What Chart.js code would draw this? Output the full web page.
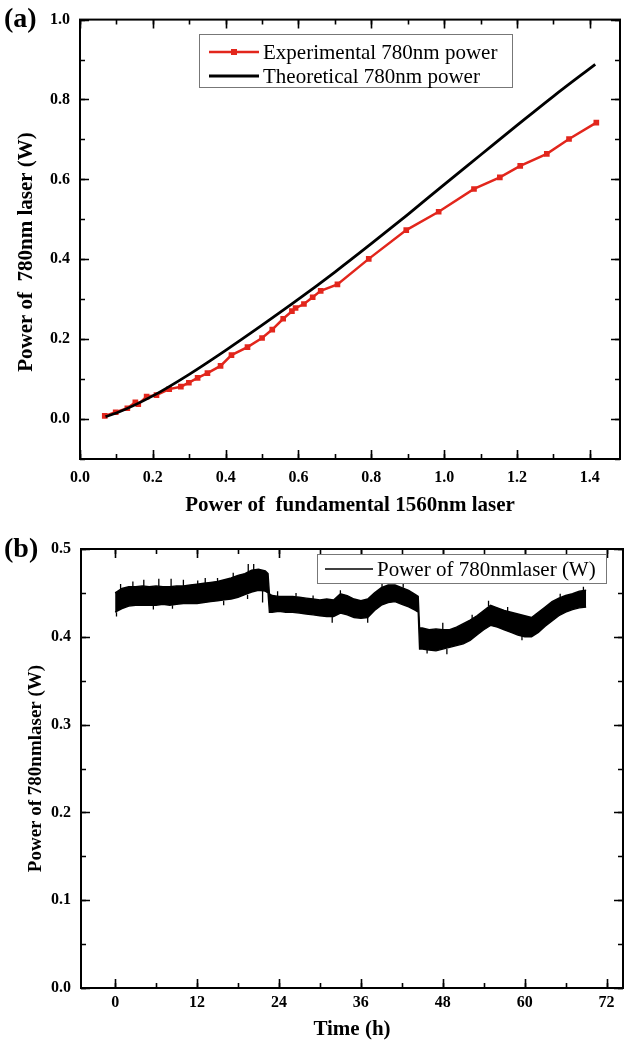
<!DOCTYPE html>
<html>
<head>
<meta charset="utf-8">
<script src="https://cdn.jsdelivr.net/npm/chart.js@4.4.0/dist/chart.umd.min.js"></script>
<style>
  html, body { margin: 0; padding: 0; background: #fff; }
  body { width: 624px; height: 1042px; position: relative; overflow: hidden; }
  .panel { position: absolute; left: 0; width: 624px; }
  .tag { position: absolute; font: bold 28px 'Liberation Serif', serif; color: #000; line-height: 30px; }
</style>
</head>
<body>
<div class="panel" style="top:0;height:520px"><canvas id="chartA" width="624" height="520"></canvas></div>
<div class="panel" style="top:520px;height:522px"><canvas id="chartB" width="624" height="522"></canvas></div>
<div class="tag" style="left:4px;top:3px">(a)</div>
<div class="tag" style="left:4px;top:533px">(b)</div>
<script>
// ---- panel (a) data ----
const fundPower = [0.068, 0.098, 0.130, 0.152, 0.160, 0.183, 0.210, 0.245, 0.277, 0.299, 0.323,
  0.350, 0.386, 0.416, 0.460, 0.500, 0.528, 0.558, 0.582, 0.592, 0.615, 0.639, 0.661, 0.707,
  0.793, 0.896, 0.985, 1.082, 1.153, 1.209, 1.282, 1.343, 1.418];
const expPower = [0.008, 0.017, 0.027, 0.042, 0.037, 0.056, 0.060, 0.075, 0.081, 0.091, 0.103,
  0.115, 0.133, 0.160, 0.180, 0.203, 0.224, 0.251, 0.270, 0.278, 0.288, 0.305, 0.321, 0.337,
  0.401, 0.473, 0.519, 0.576, 0.605, 0.634, 0.664, 0.701, 0.742];
const theoFund = [0.07, 0.1, 0.2, 0.3, 0.4, 0.5, 0.6, 0.7, 0.8, 0.9, 1.0, 1.1, 1.2, 1.3, 1.415];
const theoPower = [0.006, 0.015, 0.058, 0.112, 0.172, 0.235, 0.300, 0.368, 0.439, 0.512, 0.587,
  0.661, 0.735, 0.808, 0.888];
const xTicksA = [0, 0.2, 0.4, 0.6, 0.8, 1.0, 1.2, 1.4];
const yTicksA = [0, 0.2, 0.4, 0.6, 0.8, 1.0];

// ---- panel (b) data: upper / lower edge of the noise band ----
const hours = [0, 1, 2, 3, 4, 5, 6, 7, 8, 9, 10, 11, 12, 13, 14, 15, 16, 17, 18, 19, 20, 21, 22,
  22.4, 22.6, 23, 24, 25, 26, 27, 28, 29, 30, 31, 32, 33, 34, 35, 36, 37, 38, 39, 40, 41, 42, 43,
  44, 44.4, 44.6, 45, 46, 47, 48, 49, 50, 51, 52, 53, 54, 55, 56, 57, 58, 59, 60, 61, 62, 63, 64,
  65, 66, 67, 68, 69];
const bandTop = [0.450, 0.455, 0.457, 0.457, 0.458, 0.457, 0.458, 0.457, 0.457, 0.458, 0.458,
  0.459, 0.460, 0.461, 0.462, 0.463, 0.465, 0.467, 0.470, 0.472, 0.476, 0.477, 0.475,
  0.472, 0.449, 0.447, 0.446, 0.446, 0.446, 0.445, 0.444, 0.443, 0.442, 0.443, 0.442, 0.449,
  0.447, 0.443, 0.441, 0.443, 0.450, 0.456, 0.459, 0.459, 0.456, 0.453, 0.448, 0.446, 0.410,
  0.410, 0.408, 0.409, 0.408, 0.408, 0.411, 0.415, 0.419, 0.424, 0.430, 0.436, 0.433, 0.430,
  0.428, 0.426, 0.424, 0.422, 0.428, 0.434, 0.440, 0.444, 0.447, 0.449, 0.452, 0.453];
const bandBottom = [0.428, 0.432, 0.435, 0.436, 0.436, 0.436, 0.436, 0.437, 0.436, 0.437, 0.438,
  0.438, 0.438, 0.439, 0.440, 0.441, 0.442, 0.443, 0.445, 0.448, 0.451, 0.453, 0.452,
  0.450, 0.428, 0.428, 0.429, 0.428, 0.428, 0.427, 0.426, 0.425, 0.424, 0.423, 0.423, 0.427,
  0.425, 0.422, 0.421, 0.422, 0.430, 0.436, 0.439, 0.440, 0.437, 0.434, 0.430, 0.428, 0.386,
  0.386, 0.385, 0.384, 0.386, 0.388, 0.390, 0.392, 0.396, 0.402, 0.408, 0.413, 0.411, 0.408,
  0.405, 0.402, 0.400, 0.400, 0.405, 0.412, 0.418, 0.424, 0.428, 0.431, 0.433, 0.434];
// isolated noise spikes sticking out of the band (time, band edge, tip)
const spikeHours = [0.8, 2.6, 4.2, 6.4, 8.2, 10.0, 12.1, 13.2, 15.0, 17.3, 19.5, 20.3, 23.8, 26.5,
  29.0, 33.0, 39.1, 42.2, 48.0, 52.3, 54.7, 57.5, 65.2, 68.6,
  0.2, 5.6, 8.4, 15.9, 19.4, 21.6, 31.8, 37.0, 45.7, 48.6, 59.6];
const spikeBase = [0.454, 0.457, 0.457, 0.458, 0.457, 0.458, 0.460, 0.461, 0.463, 0.468, 0.472,
  0.476, 0.446, 0.446, 0.443, 0.449, 0.456, 0.456, 0.408, 0.419, 0.435, 0.429, 0.445, 0.453,
  0.428, 0.436, 0.436, 0.441, 0.448, 0.453, 0.424, 0.422, 0.386, 0.386, 0.401];
const spikeTip = [0.460, 0.463, 0.465, 0.466, 0.466, 0.465, 0.464, 0.467, 0.467, 0.473, 0.483,
  0.483, 0.452, 0.450, 0.447, 0.453, 0.461, 0.460, 0.416, 0.425, 0.441, 0.434, 0.449, 0.457,
  0.423, 0.431, 0.432, 0.436, 0.443, 0.439, 0.416, 0.416, 0.381, 0.380, 0.396];
const xTicksB = [0, 12, 24, 36, 48, 60, 72];
const yTicksB = [0, 0.1, 0.2, 0.3, 0.4, 0.5];

const SERIF = "'Liberation Serif', 'Times New Roman', serif";
const RED = '#e2261c';

const pairs = (xs, ys) => xs.map((x, i) => ({ x, y: ys[i] }));

// box around the plot with inward major/minor ticks on all four sides
const frameTicks = {
  id: 'frameTicks',
  afterDatasetsDraw(chart, args, o) {
    const { ctx, chartArea: a, scales: { x, y } } = chart;
    ctx.save();
    ctx.strokeStyle = '#000';
    ctx.lineWidth = 1.6;
    const xs = (step, len) => {
      for (let v = Math.ceil(x.min / step) * step; v <= x.max + 1e-9; v += step) {
        const p = Math.round(x.getPixelForValue(v)) + 0.5;
        ctx.beginPath();
        ctx.moveTo(p, a.bottom); ctx.lineTo(p, a.bottom - len);
        ctx.moveTo(p, a.top); ctx.lineTo(p, a.top + len);
        ctx.stroke();
      }
    };
    const ys = (step, len) => {
      for (let v = Math.ceil(y.min / step - 1e-9) * step; v <= y.max + 1e-9; v += step) {
        const p = Math.round(y.getPixelForValue(v)) + 0.5;
        ctx.beginPath();
        ctx.moveTo(a.left, p); ctx.lineTo(a.left + len, p);
        ctx.moveTo(a.right, p); ctx.lineTo(a.right - len, p);
        ctx.stroke();
      }
    };
    xs(o.xMinor, 5); xs(o.xMajor, 9);
    ys(o.yMinor, 5); ys(o.yMajor, 9);
    ctx.lineWidth = 2;
    ctx.strokeRect(a.left, a.top, a.right - a.left, a.bottom - a.top);
    ctx.restore();
  }
};

// legend box drawn at a fixed spot inside the plot
const boxLegend = {
  id: 'boxLegend',
  afterDraw(chart, args, o) {
    const ctx = chart.ctx;
    ctx.save();
    ctx.fillStyle = '#fff';
    ctx.fillRect(o.left, o.top, o.width, o.height);
    ctx.strokeStyle = '#777';
    ctx.lineWidth = 1;
    ctx.strokeRect(o.left + 0.5, o.top + 0.5, o.width, o.height);
    o.items.forEach((it, i) => {
      const ds = chart.data.datasets[it.dataset];
      const yy = o.top + o.firstRow + i * o.rowGap;
      ctx.strokeStyle = ds.borderColor;
      ctx.lineWidth = it.lineWidth;
      ctx.beginPath();
      ctx.moveTo(o.left + o.lineStart, yy);
      ctx.lineTo(o.left + o.lineStart + o.lineLen, yy);
      ctx.stroke();
      if (it.marker) {
        ctx.fillStyle = ds.borderColor;
        ctx.fillRect(o.left + o.lineStart + o.lineLen / 2 - 3, yy - 3, 6, 6);
      }
      ctx.fillStyle = '#000';
      ctx.font = `21px ${SERIF}`;
      ctx.textBaseline = 'middle';
      ctx.fillText(ds.label, o.left + o.lineStart + o.lineLen + 4, yy + 1);
    });
    ctx.restore();
  }
};

// y title of panel (a) sits a little below the middle of the axis
const sideTitle = {
  id: 'sideTitle',
  afterDraw(chart, args, o) {
    if (!o.text) return;
    const ctx = chart.ctx;
    ctx.save();
    ctx.translate(o.x, o.y);
    ctx.rotate(-Math.PI / 2);
    ctx.font = `bold ${o.size}px ${SERIF}`;
    ctx.fillStyle = '#000';
    ctx.textAlign = 'center';
    ctx.textBaseline = 'middle';
    ctx.fillText(o.text, 0, 0);
    ctx.restore();
  }
};

const tickFont = { family: SERIF, size: 16, weight: 'bold' };

function axis(opts) {
  return {
    type: 'linear',
    min: opts.min,
    max: opts.max,
    afterBuildTicks: s => { s.ticks = opts.ticks.map(v => ({ value: v })); },
    afterFit: s => {
      if (opts.width !== undefined) s.width = opts.width;
      if (opts.height !== undefined) s.height = opts.height;
      s.paddingLeft = 0; s.paddingRight = 0;
    },
    grid: { display: false, drawTicks: false },
    border: { display: false },
    ticks: { color: '#000', font: tickFont, padding: opts.pad, autoSkip: false, maxRotation: 0, callback: opts.fmt },
    title: {
      display: !!opts.title, text: opts.title || '', color: '#000',
      font: { family: SERIF, size: opts.titleSize, weight: 'bold' }, padding: opts.titlePad
    }
  };
}

new Chart(document.getElementById('chartA'), {
  type: 'line',
  data: {
    datasets: [
      {
        label: 'Experimental 780nm power',
        data: pairs(fundPower, expPower),
        borderColor: RED,
        backgroundColor: RED,
        borderWidth: 2.5,
        pointStyle: 'rect',
        pointRadius: 4,
        pointBorderWidth: 0,
        pointBackgroundColor: RED,
        order: 1
      },
      {
        label: 'Theoretical 780nm power',
        data: pairs(theoFund, theoPower),
        borderColor: '#000',
        borderWidth: 2.8,
        pointRadius: 0,
        cubicInterpolationMode: 'monotone',
        order: 0
      }
    ]
  },
  options: {
    responsive: false,
    animation: false,
    layout: { padding: { top: 18, right: -2, left: 0, bottom: 0 } },
    scales: {
      x: axis({ min: 0, max: 1.483, ticks: xTicksA, height: 61, pad: 9, fmt: v => v.toFixed(1),
        title: 'Power of  fundamental 1560nm laser', titleSize: 21, titlePad: { top: 0, bottom: 1.5 } }),
      y: axis({ min: -0.1, max: 1.0, ticks: yTicksA, width: 80, pad: 10, fmt: v => v.toFixed(1) })
    },
    plugins: {
      legend: { display: false },
      tooltip: { enabled: false },
      frameTicks: { xMajor: 0.2, xMinor: 0.1, yMajor: 0.2, yMinor: 0.1 },
      sideTitle: { text: 'Power of  780nm laser (W)', x: 27, y: 252, size: 21 },
      boxLegend: {
        left: 199, top: 34, width: 313, height: 53, firstRow: 18, rowGap: 24,
        lineStart: 10, lineLen: 50,
        items: [{ dataset: 0, lineWidth: 2.5, marker: true }, { dataset: 1, lineWidth: 3.2 }]
      }
    }
  },
  plugins: [frameTicks, boxLegend, sideTitle]
});

const spikeData = [];
spikeHours.forEach((t, i) => {
  spikeData.push({ x: t, y: spikeBase[i] }, { x: t, y: spikeTip[i] }, { x: t, y: null });
});

new Chart(document.getElementById('chartB'), {
  type: 'line',
  data: {
    datasets: [
      {
        label: 'Power of 780nmlaser (W)',
        data: pairs(hours, bandTop),
        borderColor: '#000',
        borderWidth: 1.4,
        pointRadius: 0
      },
      {
        label: 'lower edge',
        data: pairs(hours, bandBottom),
        borderColor: '#000',
        backgroundColor: '#000',
        borderWidth: 1.4,
        pointRadius: 0,
        fill: '-1'
      },
      {
        label: 'spikes',
        data: spikeData,
        borderColor: '#000',
        borderWidth: 1.3,
        pointRadius: 0,
        spanGaps: false
      }
    ]
  },
  options: {
    responsive: false,
    animation: false,
    layout: { padding: { top: 29, right: 1, left: 0, bottom: 0 } },
    scales: {
      x: axis({ min: -5, max: 74.4, ticks: xTicksB, height: 54, pad: 5, fmt: v => String(v),
        title: 'Time (h)', titleSize: 21, titlePad: { top: 0, bottom: 0 } }),
      y: axis({ min: 0, max: 0.5, ticks: yTicksB, width: 81, pad: 10, fmt: v => v.toFixed(1),
        title: 'Power of 780nmlaser (W)', titleSize: 19, titlePad: { top: 25, bottom: 0 } })
    },
    plugins: {
      legend: { display: false },
      tooltip: { enabled: false },
      frameTicks: { xMajor: 12, xMinor: 6, yMajor: 0.1, yMinor: 0.05 },
      boxLegend: {
        left: 317, top: 34, width: 289, height: 29, firstRow: 15, rowGap: 24,
        lineStart: 8, lineLen: 48,
        items: [{ dataset: 0, lineWidth: 1.5 }]
      }
    }
  },
  plugins: [frameTicks, boxLegend]
});
</script>
</body>
</html>
